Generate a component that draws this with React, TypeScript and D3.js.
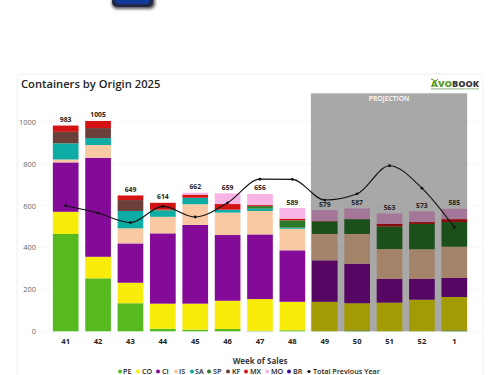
import React from "react";
import * as d3 from "d3";

const weeks = ["41","42","43","44","45","46","47","48","49","50","51","52","1"];
const totals = [983,1005,649,614,662,659,656,589,579,587,563,573,585];
const seriesNames = ["PE","CO","CI","IS","SA","SP","KF","MX","MO","BR"];
const seriesColors = ["#56b91f","#f7ec0a","#830b97","#f8c9a2","#0eaca5","#2a7a2a","#6b3f3a","#d31214","#f9b4e6","#3b0f8f"];
const PE = [465,253,134,12,8,11,3,5,1,4,1,1,4];
const CO = [106,103,98,120,124,135,151,136,140,130,136,150,160];
const CI = [236,473,188,336,376,314,309,246,198,189,114,100,91];
const IS = [14,61,72,79,99,107,112,103,126,142,142,141,149];
const SA = [77,33,83,30,31,14,11,5,0,0,0,0,0];
const SP = [0,0,0,2,0,0,12,35,60,71,108,121,118];
const KF = [55,48,52,2,0,0,0,0,0,0,0,0,0];
const MX = [30,34,22,33,15,27,5,8,2,0,12,9,14];
const MO = [0,0,0,0,9,51,53,51,52,51,50,51,49];
const BR = [0,0,0,0,0,0,0,0,0,0,0,0,0];
const previousYear = [600,565,519,597,546,614,727,726,627,657,791,684,497];
const yTicks = [0,200,400,600,800,1000];
const projectionWeeks = ["49","1"];

const font = "'Open Sans', sans-serif";

export default function App() {
  const all = [PE,CO,CI,IS,SA,SP,KF,MX,MO,BR];
  const rows = weeks.map((w,i) => {
    const r: any = { week: w };
    seriesNames.forEach((s,k) => (r[s] = all[k][i]));
    return r;
  });
  const stacked = d3.stack().keys(seriesNames)(rows);
  const x = d3.scaleBand().domain(weeks).range([49.5, 470.5]).paddingInner(0.207).paddingOuter(0.1035);
  const y = d3.scaleLinear().domain([0,1000]).range([331.3,122]);
  const cx = (w: string) => x(w)! + x.bandwidth()/2;
  const line = d3.line<number>().x((_,i) => cx(weeks[i])).y(d => y(d)).curve(d3.curveMonotoneX);
  const px0 = x(projectionWeeks[0])! - 1;
  const px1 = x(projectionWeeks[1])! + x.bandwidth();
  const legendDot = [120,138,158,176,192,209,228,246,267,289,309];
  const legendText = [123,142,162,179,195,213,232,250,271,293,313];

  return (
    <svg width={500} height={375} style={{position:"absolute",left:0,top:0,background:"#fff"}} fontFamily={font}>
      <defs>
        <filter id="sh" x="-30%" y="-100%" width="160%" height="300%"><feGaussianBlur stdDeviation="1.6"/></filter>
      </defs>
      <rect x={112} y={-8} width={43} height={17} rx={5} fill="#555" filter="url(#sh)"/>
      <rect x={112} y={-8} width={41} height={15} rx={5} fill="#20294a"/>
      <rect x={116} y={-8} width={33} height={12} rx={3} fill="#123a9c"/>
      <rect x={17} y={74} width={466} height={320} rx={6} fill="#fff" stroke="#eeeeee"/>
      <text x={21} y={87.5} fontSize={11.2} fontWeight={600} fill="#252423">Containers by Origin 2025</text>
      <g>
        <path d="M431 79 L436 81 L438 79" fill="none" stroke="#4f9a2a" strokeWidth={1}/>
        <text x={431} y={87} fontSize={9.5} fontWeight={800} fill="#5a9a2a" textLength={21} lengthAdjust="spacingAndGlyphs">AVO</text>
        <text x={452} y={87} fontSize={9.5} fontWeight={800} fill="#3a3a3a" textLength={27} lengthAdjust="spacingAndGlyphs">BOOK</text>
        <rect x={431} y={88.5} width={48} height={0.8} fill="#7a9a6a"/>
      </g>
      {yTicks.map(t => (
        <g key={t}>
          <line x1={37} x2={480} y1={y(t)} y2={y(t)} stroke="#f1f1f1" strokeDasharray="1 1"/>
          <text x={36} y={y(t)+2.8} textAnchor="end" fontSize={7.4} fill="#666">{t}</text>
        </g>
      ))}
      {stacked.map((s,k) => (
        <g key={s.key} fill={seriesColors[k]}>
          {s.map((d,i) => d[1]-d[0] > 0 ? (
            <rect key={i} x={x(weeks[i])} width={x.bandwidth()} y={y(d[1])} height={y(d[0])-y(d[1])}/>
          ) : null)}
        </g>
      ))}
      <rect x={px0} y={93.3} width={px1-px0} height={y(0)-93.3} fill="#000" opacity={0.34}/>
      <text x={(px0+px1)/2} y={101} textAnchor="middle" fontSize={6.8} fontWeight={600} fill="#ffffff">PROJECTION</text>
      {totals.map((t,i) => (
        <text key={i} x={cx(weeks[i])} y={y(t)-3.5} textAnchor="middle" fontSize={6.8} fontWeight={700} fill="#252423">{t}</text>
      ))}
      <path d={line(previousYear)!} fill="none" stroke="#111" strokeWidth={1.1}/>
      {previousYear.map((v,i) => (
        <circle key={i} cx={cx(weeks[i])} cy={y(v)} r={1.4} fill="#111"/>
      ))}
      {weeks.map(w => (
        <text key={w} x={cx(w)} y={344} textAnchor="middle" fontSize={7.6} fontWeight={700} fill="#252423">{w}</text>
      ))}
      <text x={260} y={364} textAnchor="middle" fontSize={8} fontWeight={700} fill="#3a3a3a">Week of Sales</text>
      {seriesNames.map((s,k) => (
        <g key={s}>
          <circle cx={legendDot[k]} cy={371.5} r={2} fill={seriesColors[k]}/>
          <text x={legendText[k]} y={374} fontSize={7.2} fontWeight={600} fill="#252423">{s}</text>
        </g>
      ))}
      <circle cx={legendDot[10]} cy={371.5} r={1.6} fill="#111"/>
      <text x={legendText[10]} y={374} fontSize={7.2} fontWeight={600} fill="#252423">Total Previous Year</text>
    </svg>
  );
}
